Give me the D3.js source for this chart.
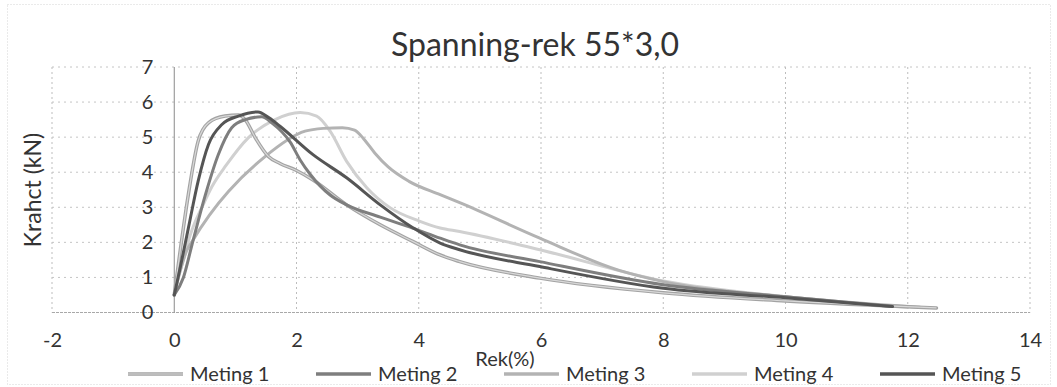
<!DOCTYPE html>
<html>
<head>
<meta charset="utf-8">
<script src="https://cdn.jsdelivr.net/npm/d3@7"></script>
<style>
  body { margin: 0; background: #fff; }
  svg text { font-family: Lato, "Open Sans", sans-serif; fill: #333; }
</style>
</head>
<body>
<div id="graph"></div>
<script>
// values
var meting1X = [0, 0.1, 0.23, 0.39, 0.56, 0.83, 1.05, 1.16, 1.32, 1.54, 1.73, 2.0, 2.27, 2.82, 3.37, 3.91, 4.35, 4.67, 5.98, 8.0, 10.0, 12.47];
var meting1Y = [0.5, 1.8, 3.36, 4.88, 5.41, 5.6, 5.63, 5.5, 5.0, 4.45, 4.25, 4.05, 3.78, 3.07, 2.5, 2.02, 1.64, 1.45, 0.98, 0.56, 0.33, 0.13];

var meting2X = [0, 0.15, 0.29, 0.51, 0.72, 0.94, 1.16, 1.43, 1.6, 1.9, 2.06, 2.22, 2.55, 2.82, 3.37, 3.91, 4.35, 4.67, 5.98, 8.0, 10.0, 11.75];
var meting2Y = [0.5, 1.0, 1.93, 3.36, 4.5, 5.27, 5.5, 5.58, 5.4, 4.85, 4.35, 3.95, 3.35, 3.07, 2.72, 2.4, 2.12, 1.93, 1.45, 0.79, 0.45, 0.17];

var meting3X = [0, 0.1, 0.2, 0.29, 1.49, 2.14, 2.44, 2.75, 2.95, 3.1, 3.28, 3.5, 3.84, 4.35, 4.67, 5.98, 7.28, 8.0, 10.0, 12.2];
var meting3Y = [0.5, 1.2, 1.75, 2.02, 4.45, 5.17, 5.25, 5.27, 5.2, 4.95, 4.55, 4.15, 3.74, 3.36, 3.13, 2.12, 1.2, 0.88, 0.45, 0.15];

var meting4X = [0, 0.05, 0.15, 0.26, 0.48, 0.62, 0.85, 1.21, 1.65, 2.06, 2.33, 2.55, 2.82, 3.15, 3.53, 4.02, 4.35, 4.67, 5.98, 8.0, 10.0, 12.0];
var meting4Y = [0.5, 0.9, 1.5, 2.2, 3.1, 3.6, 4.2, 4.98, 5.5, 5.7, 5.6, 5.17, 4.31, 3.56, 2.99, 2.6, 2.41, 2.31, 1.79, 0.9, 0.45, 0.15];

var meting5X = [0, 0.1, 0.23, 0.39, 0.56, 0.78, 1.05, 1.37, 1.55, 1.73, 2.27, 2.82, 3.37, 3.91, 4.35, 4.67, 5.98, 8.0, 10.0, 11.75];
var meting5Y = [0.5, 1.3, 2.4, 3.74, 4.79, 5.36, 5.6, 5.72, 5.55, 5.31, 4.5, 3.84, 3.07, 2.41, 1.98, 1.79, 1.31, 0.69, 0.42, 0.17];

var seriesNames = ['Meting 1', 'Meting 2', 'Meting 3', 'Meting 4', 'Meting 5'];
var xTicks = [-2, 0, 2, 4, 6, 8, 10, 12, 14];
var yTicks = [0, 1, 2, 3, 4, 5, 6, 7];

var titleText = 'Spanning-rek 55*3,0';
var xTitle = 'Rek(%)';
var yTitle = 'Krahct (kN)';

var width = 1057,
    height = 387;

var colors = ['#a3a3a3', '#7e7e7e', '#b3b3b3', '#d0d0d0', '#555555'];

var series = [
    { name: seriesNames[0], xs: meting1X, ys: meting1Y },
    { name: seriesNames[1], xs: meting2X, ys: meting2Y },
    { name: seriesNames[2], xs: meting3X, ys: meting3Y },
    { name: seriesNames[3], xs: meting4X, ys: meting4Y },
    { name: seriesNames[4], xs: meting5X, ys: meting5Y }
];

var svg = d3.select('#graph')
    .append('svg')
        .attr('width', width)
        .attr('height', height);

// outer chart border (faint, dotted like the scan)
svg.append('rect')
    .attr('x', 7.5)
    .attr('y', 4.5)
    .attr('width', 1043)
    .attr('height', 380)
    .attr('fill', 'none')
    .attr('stroke', '#d4d4d4')
    .attr('stroke-dasharray', '1,2');

var x = d3.scaleLinear()
    .domain([-2, 14])
    .range([52, 1030]);

var y = d3.scaleLinear()
    .domain([0, 7])
    .range([312.5, 67]);

// grid
svg.append('g')
    .selectAll('line.v')
    .data(xTicks.filter(function(d) { return d != 0; }))
    .enter()
    .append('line')
        .attr('x1', function(d) { return x(d); })
        .attr('x2', function(d) { return x(d); })
        .attr('y1', y(7))
        .attr('y2', y(0))
        .attr('stroke', '#bdbdbd')
        .attr('stroke-dasharray', '2,3');

svg.append('g')
    .selectAll('line.h')
    .data(yTicks)
    .enter()
    .append('line')
        .attr('x1', x(-2))
        .attr('x2', x(14))
        .attr('y1', function(d) { return y(d); })
        .attr('y2', function(d) { return y(d); })
        .attr('stroke', function(d) { return d == 0 ? '#a8a8a8' : '#c4c4c4'; })
        .attr('stroke-dasharray', function(d) { return d == 0 ? '3,1' : '2,4'; });

// vertical axis line at x = 0
svg.append('line')
    .attr('x1', x(0))
    .attr('x2', x(0))
    .attr('y1', y(7))
    .attr('y2', y(0))
    .attr('stroke', '#8a8a8a')
    .attr('stroke-width', 1);

// axes (labels only)
var xAxis = svg.append('g')
    .attr('transform', 'translate(0,' + y(0) + ')')
    .call(d3.axisBottom(x)
        .tickValues(xTicks)
        .tickSize(0)
        .tickPadding(20)
        .tickFormat(function(d) { return String(d); }));
xAxis.select('.domain').remove();
xAxis.selectAll('text')
    .attr('font-size', 20)
    .style('font-family', 'Lato, sans-serif')
    .attr('fill', '#333');

var yAxis = svg.append('g')
    .attr('transform', 'translate(' + x(0) + ',0)')
    .call(d3.axisLeft(y)
        .tickValues(yTicks)
        .tickSize(0)
        .tickPadding(21)
        .tickFormat(function(d) { return String(d); }));
yAxis.select('.domain').remove();
yAxis.selectAll('text')
    .attr('font-size', 20)
    .style('font-family', 'Lato, sans-serif')
    .attr('fill', '#333');

// the curves
var line = d3.line()
    .x(function(d) { return x(d[0]); })
    .y(function(d) { return y(d[1]); })
    .curve(d3.curveMonotoneX);

var drawOrder = [3, 2, 0, 1, 4];
drawOrder.forEach(function(i) {
    var s = series[i];
    var pts = s.xs.map(function(v, k) { return [v, s.ys[k]]; });
    svg.append('path')
        .datum(pts)
        .attr('fill', 'none')
        .attr('stroke', colors[i])
        .attr('stroke-width', i == 0 ? 3.5 : 3)
        .attr('stroke-linejoin', 'round')
        .attr('stroke-linecap', 'round')
        .attr('d', line);
    if (i == 0) {
        svg.append('path')
            .datum(pts)
            .attr('fill', 'none')
            .attr('stroke', '#d8d8d8')
            .attr('stroke-width', 1.2)
            .attr('d', line);
    }
});

// title
svg.append('text')
    .attr('x', 535)
    .attr('y', 56)
    .attr('text-anchor', 'middle')
    .attr('font-size', 32)
    .text(titleText);

// axis titles
svg.append('text')
    .attr('transform', 'translate(41,190) rotate(-90)')
    .attr('text-anchor', 'middle')
    .attr('font-size', 23)
    .text(yTitle);

svg.append('text')
    .attr('x', 505)
    .attr('y', 366)
    .attr('text-anchor', 'middle')
    .attr('font-size', 20)
    .text(xTitle);

// legend
var legend = svg.append('g')
    .attr('transform', 'translate(0,374)');

series.forEach(function(s, i) {
    var tx = 190 + i * 188;
    legend.append('line')
        .attr('x1', tx - 62)
        .attr('x2', tx - 7)
        .attr('y1', 0)
        .attr('y2', 0)
        .attr('stroke', colors[i])
        .attr('stroke-width', 3.5);
    if (i == 0) {
        legend.append('line')
            .attr('x1', tx - 62)
            .attr('x2', tx - 7)
            .attr('y1', 0)
            .attr('y2', 0)
            .attr('stroke', '#d8d8d8')
            .attr('stroke-width', 1.2);
    }
    legend.append('text')
        .attr('x', tx)
        .attr('y', 0)
        .attr('dy', '0.35em')
        .attr('font-size', 20)
        .text(s.name);
});
</script>
</body>
</html>
